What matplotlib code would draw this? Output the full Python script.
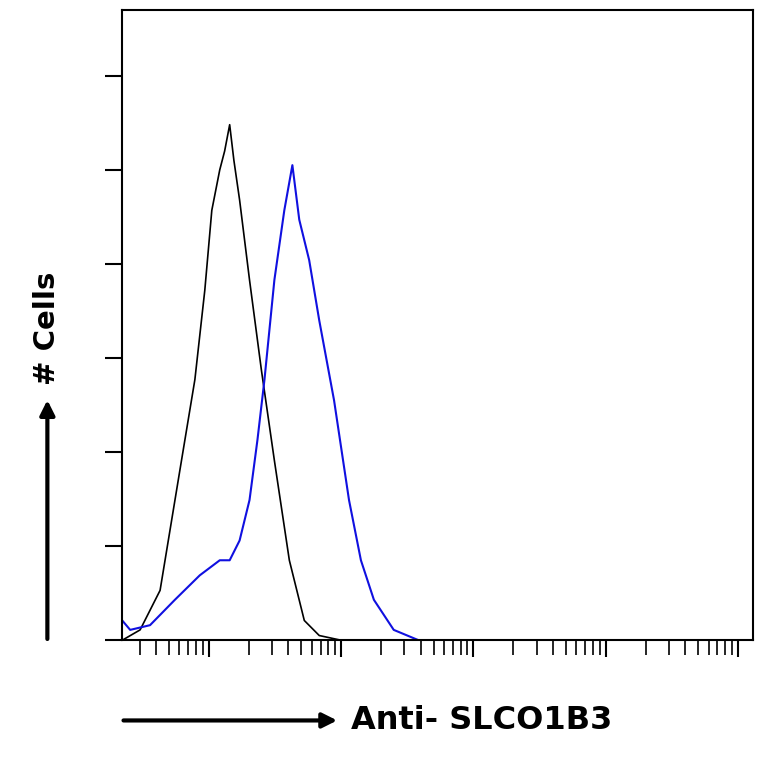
import matplotlib
matplotlib.use("Agg")
from matplotlib import pyplot as plt
import numpy as np

# exponents (log10 of intensity) and counts
black_exp = [-0.654, -0.519, -0.368, -0.218, -0.105, -0.030, 0.023, 0.083, 0.120, 0.158, 0.190,
             0.233, 0.308, 0.398, 0.496, 0.609, 0.722, 0.835, 1.0]
black_cnt = [0, 11, 53, 181, 277, 372, 457, 500, 520, 548, 510,
             468, 383, 287, 191, 85, 21, 5, 0]
blue_exp = [-0.654, -0.594, -0.444, -0.256, -0.068, 0.083, 0.158, 0.233, 0.308, 0.368, 0.421,
            0.496, 0.571, 0.632, 0.684, 0.759, 0.835, 0.947, 1.06, 1.15, 1.248, 1.398, 1.586]
blue_cnt = [21, 11, 16, 43, 69, 85, 85, 106, 149, 213, 277,
            383, 457, 505, 447, 404, 340, 255, 149, 85, 43, 11, 0]

fig = plt.figure(figsize=(7.64, 7.64), dpi=100)
ax = fig.add_axes([0.160, 0.162, 0.825, 0.825])
ax.plot(10 ** np.array(black_exp), black_cnt, color="black", lw=1.2)
ax.plot(10 ** np.array(blue_exp), blue_cnt, color="#1010e0", lw=1.5)
ax.set_xscale("log")
ax.set_xlim(10 ** -0.654, 10 ** 4.11)
ax.set_ylim(0, 670)
ax.set_yticks(range(0, 700, 100))
ax.set_yticklabels([])
ax.set_xticklabels([])
ax.xaxis.set_minor_formatter(plt.NullFormatter())
ax.tick_params(axis="both", which="major", length=12, width=1.5, direction="out")
ax.tick_params(axis="x", which="minor", length=11, width=1.2, direction="out")
for s in ax.spines.values():
    s.set_linewidth(1.5)

fig.text(0.062, 0.57, "# Cells", rotation=90, fontsize=21, fontweight="bold", ha="center", va="center")
fig.patches.append(matplotlib.patches.FancyArrowPatch((0.062, 0.16), (0.062, 0.48), transform=fig.transFigure,
                                                      arrowstyle="-|>", mutation_scale=22, lw=3, color="black"))
fig.patches.append(matplotlib.patches.FancyArrowPatch((0.158, 0.057), (0.445, 0.057), transform=fig.transFigure,
                                                      arrowstyle="-|>", mutation_scale=22, lw=3, color="black"))
fig.text(0.46, 0.057, "Anti- SLCO1B3", fontsize=23, fontweight="bold", ha="left", va="center")

fig.savefig("out.png", dpi=100)
